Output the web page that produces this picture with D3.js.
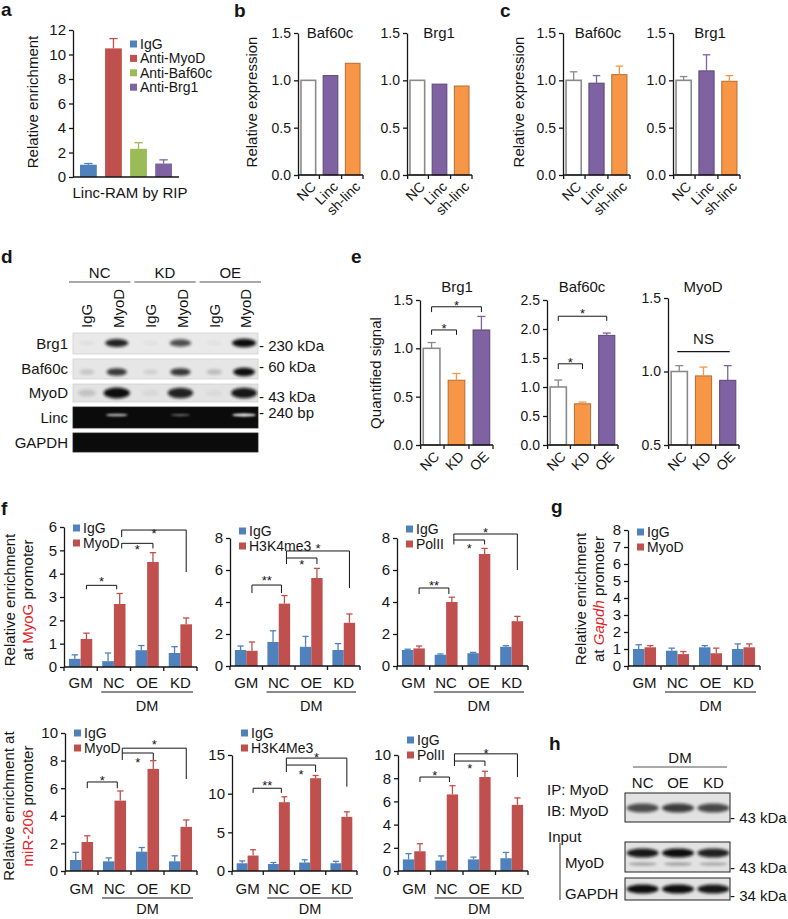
<!DOCTYPE html>
<html><head><meta charset="utf-8">
<script src="https://cdn.jsdelivr.net/npm/d3@7/dist/d3.min.js"></script>
<style>html,body{margin:0;padding:0;background:#fff}svg{display:block}</style>
</head><body>
<svg id="fig" width="788" height="919" xmlns="http://www.w3.org/2000/svg"></svg>
<script>
// ================= DATA =================
// Panel a
const aCategories = ["IgG", "Anti-MyoD", "Anti-Baf60c", "Anti-Brg1"];
const aValues = [1.0, 10.5, 2.3, 1.1];
const aErrors = [0.1, 0.8, 0.5, 0.3];
const aTicks = [0, 2, 4, 6, 8, 10, 12];
// Panels b & c
const bcCategories = ["NC", "Linc", "sh-linc"];
const bBaf60c = [1.0, 1.05, 1.18];
const bBrg1 = [1.0, 0.96, 0.94];
const cBaf60c = [1.0, 0.97, 1.06];
const cBaf60cErr = [0.09, 0.08, 0.09];
const cBrg1 = [1.0, 1.10, 0.99];
const cBrg1Err = [0.04, 0.17, 0.06];
const bcTicks = [0, 0.5, 1.0, 1.5];
// Panel d (blot band intensities, per lane)
const dGroups = ["NC", "KD", "OE"];
const dLanes = ["IgG", "MyoD", "IgG", "MyoD", "IgG", "MyoD"];
const dRows = ["Brg1", "Baf60c", "MyoD", "Linc", "GAPDH"];
const dBrg1 = [0.04, 0.9, 0.03, 0.7, 0.03, 1.0];
const dBaf60c = [0.15, 0.8, 0.1, 0.8, 0.2, 1.0];
const dMyoD = [0.15, 1.0, 0.05, 0.9, 0.04, 0.95];
const dLinc = [0, 0.75, 0, 0.4, 0, 1.0];
const dGAPDH = [0, 0, 0, 0, 0, 0];
const dSizes = ["230 kDa", "60 kDa", "43 kDa", "240 bp"];
// Panel e
const eCategories = ["NC", "KD", "OE"];
const eBrg1 = [1.0, 0.67, 1.19];
const eBrg1Err = [0.06, 0.07, 0.14];
const eBaf60c = [1.0, 0.71, 1.89];
const eBaf60cErr = [0.12, 0.03, 0.04];
const eMyoD = [1.0, 0.97, 0.94];
const eMyoDErr = [0.04, 0.06, 0.10];
const eBrg1Ticks = [0, 0.5, 1.0, 1.5];
const eBaf60cTicks = [0, 0.5, 1.0, 1.5, 2.0, 2.5];
const eMyoDTicks = [0.5, 1.0, 1.5];
const eBrg1Sig = [
  {a: "NC", b: "KD", level: 1.19, dropA: 1.14, dropB: 1.14, label: "*", at: 1.24},
  {a: "NC", b: "OE", level: 1.43, dropA: 1.375, dropB: 1.375, label: "*", at: 1.47}];
const eBaf60cSig = [
  {a: "NC", b: "KD", level: 1.4, dropA: 1.31, dropB: 1.31, label: "*", at: 1.48},
  {a: "NC", b: "OE", level: 2.22, dropA: 2.14, dropB: 2.14, label: "*", at: 2.31}];
const eMyoDNS = {a: "NC", b: "OE", level: 1.135, label: "NS", at: 1.22};
// Panel f / g
const fGroups = ["GM", "NC", "OE", "KD"];
// f, MyoG promoter
const f1IgG = [0.35, 0.25, 0.72, 0.6];
const f1IgGErr = [0.17, 0.35, 0.2, 0.27];
const f1MyoD = [1.2, 2.7, 4.5, 1.83];
const f1MyoDErr = [0.25, 0.45, 0.4, 0.27];
const f1Ticks = [0, 1, 2, 3, 4, 5, 6];
const f1Sig = [
  {a: "GM", b: "NC", level: 3.5, dropA: 3.33, dropB: 3.33, label: "*", at: 3.8},
  {a: "NC", b: "OE", level: 5.3, dropA: 5.08, dropB: 5.08, label: "*", at: 5.17},
  {a: "NC", b: "KD", level: 5.87, dropA: 5.57, dropB: 4.07, label: "*", at: 5.83}];
const f2IgG = [1.0, 1.5, 1.2, 1.0];
const f2IgGErr = [0.25, 0.7, 0.65, 0.4];
const f2H3K4me3 = [0.95, 3.9, 5.5, 2.7];
const f2H3K4me3Err = [0.55, 0.5, 0.6, 0.55];
const f2Ticks = [0, 2, 4, 6, 8];
const f2Sig = [
  {a: "GM", b: "NC", level: 5.06, dropA: 4.56, dropB: 4.56, label: "**", at: 5.5},
  {a: "NC", b: "OE", level: 6.75, dropA: 6.375, dropB: 6.375, label: "*", at: 6.5},
  {a: "NC", b: "KD", level: 7.19, dropA: 6.75, dropB: 4.875, label: "*", at: 7.5}];
const f3IgG = [1.0, 0.7, 0.8, 1.2];
const f3IgGErr = [0.05, 0.05, 0.05, 0.07];
const f3PolII = [1.1, 4.0, 7.0, 2.8];
const f3PolIIErr = [0.15, 0.3, 0.35, 0.3];
const f3Ticks = [0, 2, 4, 6, 8];
const f3Sig = [
  {a: "GM", b: "NC", level: 4.875, dropA: 4.5, dropB: 4.5, label: "**", at: 5.2},
  {a: "NC", b: "OE", level: 7.875, dropA: 7.6, dropB: 7.6, label: "*", at: 7.55},
  {a: "NC", b: "KD", level: 8.25, dropA: 7.875, dropB: 6.0, label: "*", at: 8.5}];
// f, miR-206 promoter
const f4IgG = [0.8, 0.7, 1.4, 0.7];
const f4IgGErr = [0.55, 0.25, 0.3, 0.4];
const f4MyoD = [2.1, 5.1, 7.4, 3.2];
const f4MyoDErr = [0.45, 0.7, 0.6, 0.5];
const f4Ticks = [0, 2, 4, 6, 8, 10];
const f4Sig = [
  {a: "GM", b: "NC", level: 6.45, dropA: 6.0, dropB: 6.0, label: "*", at: 6.8},
  {a: "NC", b: "OE", level: 8.55, dropA: 8.04, dropB: 8.04, label: "*", at: 8.1},
  {a: "NC", b: "KD", level: 8.9, dropA: 8.55, dropB: 6.67, label: "*", at: 9.35}];
const f5IgG = [1.0, 0.9, 1.1, 1.0];
const f5IgGErr = [0.3, 0.2, 0.35, 0.25];
const f5H3K4Me3 = [2.0, 8.9, 12.0, 7.0];
const f5H3K4Me3Err = [0.75, 0.7, 0.35, 0.65];
const f5Ticks = [0, 5, 10, 15];
const f5Sig = [
  {a: "GM", b: "NC", level: 10.7, dropA: 10.1, dropB: 10.1, label: "**", at: 11.4},
  {a: "NC", b: "OE", level: 13.7, dropA: 12.8, dropB: 12.8, label: "*", at: 12.9},
  {a: "NC", b: "KD", level: 14.6, dropA: 13.7, dropB: 10.9, label: "*", at: 15.1}];
const f6IgG = [1.0, 0.9, 1.0, 1.1];
const f6IgGErr = [0.5, 0.4, 0.2, 0.5];
const f6PolII = [1.7, 6.6, 8.1, 5.7];
const f6PolIIErr = [0.65, 0.75, 0.5, 0.6];
const f6Ticks = [0, 2, 4, 6, 8, 10];
const f6Sig = [
  {a: "GM", b: "NC", level: 8.1, dropA: 7.67, dropB: 7.67, label: "*", at: 8.5},
  {a: "NC", b: "OE", level: 9.48, dropA: 9.05, dropB: 9.05, label: "*", at: 9.1},
  {a: "NC", b: "KD", level: 10.1, dropA: 9.48, dropB: 8.1, label: "*", at: 10.35}];
// g, Gapdh promoter
const gIgG = [1.0, 0.9, 1.1, 1.0];
const gIgGErr = [0.25, 0.15, 0.1, 0.3];
const gMyoD = [1.1, 0.7, 0.75, 1.1];
const gMyoDErr = [0.1, 0.15, 0.3, 0.2];
const gTicks = [0, 1, 2, 3, 4, 5, 6, 7, 8];
// Panel h (blot band intensities)
const hLanes = ["NC", "OE", "KD"];
const hIP = [0.7, 0.78, 0.72];
const hInputMyoD = [0.95, 1.0, 0.9];
const hGAPDH = [1.0, 1.0, 0.95];

// ================= DRAWING =================
const FONT = "'Liberation Sans', Arial, Helvetica, sans-serif";
const C = {blue: "#4f81bd", red: "#c0504d", green: "#9bbb59", purple: "#7f62a1",
           orange: "#f79646", white: "#ffffff", txtRed: "#e3242b", ink: "#151515"};
const svg = d3.select("#fig").attr("font-family", FONT);
const defs = svg.append("defs");
defs.append("filter").attr("id", "blur").attr("x", "-50%").attr("y", "-80%").attr("width", "200%").attr("height", "260%")
  .append("feGaussianBlur").attr("stdDeviation", 1.8);
defs.append("filter").attr("id", "blurS").attr("x", "-50%").attr("y", "-100%").attr("width", "200%").attr("height", "300%")
  .append("feGaussianBlur").attr("stdDeviation", 0.9);

function T(x, y, s, o = {}) {
  const t = svg.append("text").attr("x", x).attr("y", y).text(s)
    .attr("font-size", o.fs || 14).attr("text-anchor", o.anchor || "start").attr("fill", o.fill || C.ink);
  if (o.bold) t.attr("font-weight", "bold");
  return t;
}
function letter(x, y, s) { T(x, y, s, {fs: 19, bold: true}); }
function line(x1, y1, x2, y2, w = 1.3, col = C.ink) {
  svg.append("line").attr("x1", x1).attr("y1", y1).attr("x2", x2).attr("y2", y2)
    .attr("stroke", col).attr("stroke-width", w);
}
function yAxis(x0, y, ticks, fmt, fs = 14) {
  const g = svg.append("g").attr("transform", `translate(${x0},0)`)
    .call(d3.axisLeft(y).tickValues(ticks).tickFormat(fmt).tickSize(4).tickSizeOuter(0).tickPadding(3));
  g.select(".domain").attr("stroke", C.ink).attr("stroke-width", 1.3);
  g.selectAll(".tick line").attr("stroke", C.ink).attr("stroke-width", 1.3);
  g.selectAll(".tick text").attr("font-size", fs).attr("font-family", FONT).attr("fill", C.ink);
  return g;
}
function yLabel(cx, cy, parts, fs = 15) {
  const t = svg.append("text").attr("transform", `translate(${cx},${cy}) rotate(-90)`)
    .attr("text-anchor", "middle").attr("dy", "0.35em").attr("font-size", fs).attr("fill", C.ink);
  parts.forEach(p => {
    const ts = t.append("tspan").text(p.t);
    if (p.red) ts.attr("fill", C.txtRed);
    if (p.italic) ts.attr("font-style", "italic");
  });
}
function errBars(xs, tops, errs, w, cols, y) {
  tops.forEach((v, i) => {
    if (!errs || !errs[i]) return;
    const x = xs[i], col = cols[i];
    line(x, y(v), x, y(v + errs[i]), 1.3, col);
    line(x - w / 2, y(v + errs[i]), x + w / 2, y(v + errs[i]), 1.3, col);
  });
}
function sigStar(xa, xb, y, s, fs = 13) {
  const yl = y(s.level);
  svg.append("path").attr("d", `M${xa},${y(s.dropA)}V${yl}H${xb}V${y(s.dropB)}`)
    .attr("fill", "none").attr("stroke", C.ink).attr("stroke-width", 1);
  T((xa + xb) / 2, y(s.at) + 0.57 * fs, s.label, {fs: fs, anchor: "middle"});
}

// ---------- Simple (single-series) bar chart: panels b, c, e ----------
function simpleChart(cfg) {
  const x = d3.scaleBand().domain(cfg.cats).range([cfg.x0, cfg.x1]).paddingInner(0.27).paddingOuter(0.1);
  const y = d3.scaleLinear().domain(cfg.domain).range([cfg.yBot, cfg.yTop]);
  const base = cfg.domain[0];
  const cx = cfg.cats.map(c => x(c) + x.bandwidth() / 2);
  svg.append("g").selectAll("rect").data(cfg.vals).join("rect")
    .attr("x", (d, i) => x(cfg.cats[i]) + 0.75).attr("width", x.bandwidth() - 1.5)
    .attr("y", d => y(d)).attr("height", d => y(base) - y(d))
    .attr("fill", (d, i) => cfg.colors[i])
    .attr("stroke", (d, i) => cfg.colors[i] === C.white ? "#8a8a8a" : d3.color(cfg.colors[i]).darker(0.9))
    .attr("stroke-width", (d, i) => cfg.colors[i] === C.white ? 1.6 : 1);
  const ecols = cfg.colors.map(c => c === C.white ? "#8a8a8a" : c);
  if (cfg.errs) errBars(cx, cfg.vals, cfg.errs, x.bandwidth() * 0.45, ecols, y);
  yAxis(cfg.x0, y, cfg.ticks, d3.format(".1f"), 14);
  line(cfg.x0, y(base), cfg.x1, y(base));
  [cfg.x0 + 0.65, ...cfg.cats.slice(1).map(c => x(c) - x.step() * 0.135), cfg.x1].forEach(t => line(t, y(base), t, y(base) + 4));
  cfg.cats.forEach((c, i) => {
    svg.append("text").attr("transform", `translate(${cx[i] + 5},${y(base) + 9}) rotate(-45)`)
      .attr("text-anchor", "end").attr("dy", "0.35em").attr("font-size", 14).attr("fill", C.ink).text(c);
  });
  T(cfg.titleX, cfg.titleY, cfg.title, {fs: 15, anchor: "middle"});
  return {x, y, cx};
}

// ---------- Grouped (IgG vs antibody) bar chart: panels f, g ----------
function groupedChart(cfg) {
  const x = d3.scaleBand().domain(fGroups).range([cfg.x0, cfg.x1]).paddingInner(0.3).paddingOuter(0.15);
  const sub = d3.scaleBand().domain(["IgG", "T"]).range([0, x.bandwidth()]);
  const y = d3.scaleLinear().domain([0, cfg.ticks[cfg.ticks.length - 1]]).range([cfg.yBot, cfg.yTop]);
  const series = [{k: "IgG", v: cfg.igg, e: cfg.iggErr, c: C.blue}, {k: "T", v: cfg.trt, e: cfg.trtErr, c: C.red}];
  series.forEach(s => {
    svg.append("g").selectAll("rect").data(s.v).join("rect")
      .attr("x", (d, i) => x(fGroups[i]) + sub(s.k)).attr("width", sub.bandwidth())
      .attr("y", d => y(d)).attr("height", d => cfg.yBot - y(d)).attr("fill", s.c);
    errBars(fGroups.map(g => x(g) + sub(s.k) + sub.bandwidth() / 2), s.v, s.e, sub.bandwidth() * 0.55,
      s.v.map(() => s.c), y);
  });
  yAxis(cfg.x0, y, cfg.ticks, d3.format("d"), 15);
  line(cfg.x0, cfg.yBot, cfg.x1, cfg.yBot);
  d3.range(5).forEach(k => { const t = cfg.x0 + k * x.step(); line(t, cfg.yBot, t, cfg.yBot + 4); });
  fGroups.forEach(gp => T(x(gp) + x.bandwidth() / 2, cfg.yBot + cfg.lblDy, gp, {fs: 15, anchor: "middle"}));
  // DM underline
  line(cfg.x0 + x.step() + 4, cfg.dmY, cfg.x1 - 4, cfg.dmY, 1.1);
  T((cfg.x0 + x.step() + cfg.x1) / 2, cfg.dmY + cfg.dmDy, "DM", {fs: 14.5, anchor: "middle"});
  // legend
  const lx = cfg.x0 + 9;
  [["IgG", C.blue], [cfg.trtName, C.red]].forEach((l, i) => {
    const cy = cfg.legY + i * 15;
    svg.append("rect").attr("x", lx).attr("y", cy - 3.5).attr("width", 7).attr("height", 7).attr("fill", l[1]);
    T(lx + 10, cy + 4.8, l[0], {fs: 14});
  });
  // significance brackets
  if (cfg.sig) cfg.sig.forEach(s => {
    const xa = x(s.a) + sub("T") + sub.bandwidth() / 2 + (s.a === "GM" ? 0 : 2);
    const xb = x(s.b) + sub("T") + sub.bandwidth() / 2 - (s.b === "NC" ? 3 : 0);
    sigStar(xa, xb, y, s);
  });
  return {x, y};
}

// ================= Panel a =================
(function () {
  const x = d3.scaleBand().domain(aCategories).range([75, 177]).paddingInner(0.33).paddingOuter(0.2);
  const y = d3.scaleLinear().domain([0, 12]).range([177, 30]);
  const cols = [C.blue, C.red, C.green, C.purple];
  svg.append("g").selectAll("rect").data(aValues).join("rect")
    .attr("x", (d, i) => x(aCategories[i])).attr("width", x.bandwidth())
    .attr("y", d => y(d)).attr("height", d => y(0) - y(d)).attr("fill", (d, i) => cols[i]);
  errBars(aCategories.map(c => x(c) + x.bandwidth() / 2), aValues, aErrors, x.bandwidth() * 0.5, cols, y);
  yAxis(73, y, aTicks, d3.format("d"), 15);
  line(73, y(0), 179, y(0));
  aCategories.forEach((c, i) => {
    const cy = 44 + i * 14.4;
    svg.append("rect").attr("x", 130).attr("y", cy - 3.5).attr("width", 7).attr("height", 7).attr("fill", cols[i]);
    T(140, cy + 4.8, c, {fs: 14});
  });
  yLabel(33, 102, [{t: "Relative enrichment"}]);
  T(130, 198, "Linc-RAM by RIP", {fs: 15, anchor: "middle"});
  letter(1, 16, "a");
})();

// ================= Panels b & c =================
letter(234, 17, "b");
yLabel(252, 102, [{t: "Relative expression"}]);
simpleChart({cats: bcCategories, vals: bBaf60c, colors: [C.white, C.purple, C.orange], x0: 298, x1: 363,
  domain: [0, 1.5], yTop: 33, yBot: 175, ticks: bcTicks, title: "Baf60c", titleX: 330, titleY: 38});
simpleChart({cats: bcCategories, vals: bBrg1, colors: [C.white, C.purple, C.orange], x0: 407, x1: 472,
  domain: [0, 1.5], yTop: 33, yBot: 175, ticks: bcTicks, title: "Brg1", titleX: 439, titleY: 38});
letter(500, 17, "c");
yLabel(519, 102, [{t: "Relative expression"}]);
simpleChart({cats: bcCategories, vals: cBaf60c, errs: cBaf60cErr, colors: [C.white, C.purple, C.orange], x0: 563, x1: 630,
  domain: [0, 1.5], yTop: 33, yBot: 175, ticks: bcTicks, title: "Baf60c", titleX: 598, titleY: 38});
simpleChart({cats: bcCategories, vals: cBrg1, errs: cBrg1Err, colors: [C.white, C.purple, C.orange], x0: 673, x1: 740,
  domain: [0, 1.5], yTop: 33, yBot: 175, ticks: bcTicks, title: "Brg1", titleX: 710, titleY: 38});

// ================= Panel d (co-IP blots) =================
(function () {
  letter(1, 263, "d");
  const lanes = d3.scaleBand().domain(d3.range(dLanes.length)).range([71, 262]);
  const grp = d3.scaleBand().domain(dGroups).range([69, 261]).paddingInner(0.06);
  dGroups.forEach(gp => {
    T(grp(gp) + grp.bandwidth() / 2, 278, gp, {fs: 15, anchor: "middle"});
    line(grp(gp), 282, grp(gp) + grp.bandwidth(), 282, 1.2, "#555");
  });
  dLanes.forEach((l, i) => {
    svg.append("text").attr("transform", `translate(${lanes(i) + lanes.bandwidth() / 2},328) rotate(-90)`)
      .attr("dy", "0.35em").attr("font-size", 15).attr("fill", C.ink).text(l);
  });
  const rows = [
    {name: dRows[0], vals: dBrg1, y0: 333, y1: 354, cy: 343, w: 22, h: 7, bg: "#e9e9e9", band: "#111"},
    {name: dRows[1], vals: dBaf60c, y0: 359, y1: 379, cy: 372, w: 20, h: 7, bg: "#e6e6e6", band: "#111"},
    {name: dRows[2], vals: dMyoD, y0: 384, y1: 402, cy: 393, w: 24, h: 9, bg: "#e3e3e3", band: "#111"},
    {name: dRows[3], vals: dLinc, y0: 407, y1: 428, cy: 415, w: 22, h: 2.5, bg: "#0b0b0b", band: "#f4f4f4"},
    {name: dRows[4], vals: dGAPDH, y0: 433, y1: 452, cy: 442, w: 22, h: 3, bg: "#0b0b0b", band: "#f4f4f4"}];
  rows.forEach((r, ri) => {
    const id = "clipd" + ri;
    defs.append("clipPath").attr("id", id).append("rect").attr("x", 73).attr("y", r.y0).attr("width", 185).attr("height", r.y1 - r.y0);
    svg.append("rect").attr("x", 73).attr("y", r.y0).attr("width", 185).attr("height", r.y1 - r.y0)
      .attr("fill", r.bg).attr("stroke", ri < 3 ? "#d0d0d0" : "#222").attr("stroke-width", 0.8);
    const g = svg.append("g").attr("clip-path", `url(#${id})`);
    g.selectAll("ellipse").data(r.vals).join("ellipse")
      .attr("cx", (d, i) => lanes(i) + lanes.bandwidth() / 2 + (i % 2 ? -2 : 0))
      .attr("cy", r.cy)
      .attr("rx", d => r.w / 2 * (0.7 + 0.4 * d)).attr("ry", d => r.h / 2 * (0.7 + 0.5 * d))
      .attr("fill", r.band).attr("opacity", d => d)
      .attr("filter", ri === 3 ? "url(#blurS)" : "url(#blur)");
    T(68, (r.y0 + r.y1) / 2 + 5, r.name, {fs: 15, anchor: "end"});
  });
  const sizeY = [346, 367, 397, 413];
  dSizes.forEach((s, i) => T(259, sizeY[i] + 5, "- " + s, {fs: 15}));
})();

// ================= Panel e =================
letter(351, 263, "e");
yLabel(376, 373, [{t: "Quantified signal"}]);
(function () {
  const cols = [C.white, C.orange, C.purple];
  const c1 = simpleChart({cats: eCategories, vals: eBrg1, errs: eBrg1Err, colors: cols, x0: 420, x1: 493,
    domain: [0, 1.5], yTop: 300, yBot: 445, ticks: eBrg1Ticks, title: "Brg1", titleX: 457, titleY: 292});
  eBrg1Sig.forEach(s => sigStar(c1.cx[eCategories.indexOf(s.a)], c1.cx[eCategories.indexOf(s.b)], c1.y, s));
  const c2 = simpleChart({cats: eCategories, vals: eBaf60c, errs: eBaf60cErr, colors: cols, x0: 547, x1: 618,
    domain: [0, 2.5], yTop: 300, yBot: 445, ticks: eBaf60cTicks, title: "Baf60c", titleX: 582, titleY: 292});
  eBaf60cSig.forEach(s => sigStar(c2.cx[eCategories.indexOf(s.a)], c2.cx[eCategories.indexOf(s.b)], c2.y, s));
  const c3 = simpleChart({cats: eCategories, vals: eMyoD, errs: eMyoDErr, colors: cols, x0: 668, x1: 739,
    domain: [0.5, 1.5], yTop: 298, yBot: 445, ticks: eMyoDTicks, title: "MyoD", titleX: 703, titleY: 292});
  const xa = c3.cx[0] - 2, xb = c3.cx[2] + 2;
  line(xa, c3.y(eMyoDNS.level), xb, c3.y(eMyoDNS.level), 1.1);
  T((xa + xb) / 2, c3.y(eMyoDNS.at) + 5, eMyoDNS.label, {fs: 15, anchor: "middle"});
})();

// ================= Panel f =================
letter(1, 515, "f");
yLabel(10, 600, [{t: "Relative enrichment"}]);
yLabel(28, 600, [{t: "at "}, {t: "MyoG", red: true}, {t: " promoter"}]);
groupedChart({x0: 64, x1: 197, yTop: 527, yBot: 667, ticks: f1Ticks, igg: f1IgG, iggErr: f1IgGErr,
  trt: f1MyoD, trtErr: f1MyoDErr, trtName: "MyoD", sig: f1Sig, legY: 528, lblDy: 21, dmY: 692, dmDy: 19});
groupedChart({x0: 230, x1: 360, yTop: 538, yBot: 666, ticks: f2Ticks, igg: f2IgG, iggErr: f2IgGErr,
  trt: f2H3K4me3, trtErr: f2H3K4me3Err, trtName: "H3K4me3", sig: f2Sig, legY: 531, lblDy: 22, dmY: 692, dmDy: 19});
groupedChart({x0: 397, x1: 528, yTop: 538, yBot: 666, ticks: f3Ticks, igg: f3IgG, iggErr: f3IgGErr,
  trt: f3PolII, trtErr: f3PolIIErr, trtName: "PolII", sig: f3Sig, legY: 529, lblDy: 22, dmY: 692, dmDy: 19});

yLabel(9, 806, [{t: "Relative enrichment at"}]);
yLabel(28, 806, [{t: "miR-206", red: true}, {t: " promoter"}]);
groupedChart({x0: 65, x1: 197, yTop: 733, yBot: 871, ticks: f4Ticks, igg: f4IgG, iggErr: f4IgGErr,
  trt: f4MyoD, trtErr: f4MyoDErr, trtName: "MyoD", sig: f4Sig, legY: 733, lblDy: 23, dmY: 898, dmDy: 16});
groupedChart({x0: 232, x1: 357, yTop: 755, yBot: 871, ticks: f5Ticks, igg: f5IgG, iggErr: f5IgGErr,
  trt: f5H3K4Me3, trtErr: f5H3K4Me3Err, trtName: "H3K4Me3", sig: f5Sig, legY: 733, lblDy: 23, dmY: 898, dmDy: 16});
groupedChart({x0: 398, x1: 528, yTop: 755, yBot: 871, ticks: f6Ticks, igg: f6IgG, iggErr: f6IgGErr,
  trt: f6PolII, trtErr: f6PolIIErr, trtName: "PolII", sig: f6Sig, legY: 740, lblDy: 23, dmY: 898, dmDy: 16});

// ================= Panel g =================
letter(551, 513, "g");
yLabel(581, 599, [{t: "Relative enrichment"}]);
yLabel(599, 599, [{t: "at "}, {t: "Gapdh", red: true, italic: true}, {t: " promoter"}]);
groupedChart({x0: 628, x1: 760, yTop: 530, yBot: 666, ticks: gTicks, igg: gIgG, iggErr: gIgGErr,
  trt: gMyoD, trtErr: gMyoDErr, trtName: "MyoD", legY: 532, lblDy: 22, dmY: 692, dmDy: 19});

// ================= Panel h =================
(function () {
  letter(549, 750, "h");
  const lanes = d3.scaleBand().domain(hLanes).range([625, 731]);
  T(680, 763, "DM", {fs: 15, anchor: "middle"});
  line(633, 767, 727, 767, 1.2, "#555");
  hLanes.forEach(l => T(lanes(l) + lanes.bandwidth() / 2, 788, l, {fs: 15, anchor: "middle"}));
  T(547, 795, "IP: MyoD", {fs: 15});
  T(547, 816, "IB: MyoD", {fs: 15});
  T(548, 842, "Input", {fs: 15});
  T(565, 868, "MyoD", {fs: 15});
  T(565, 899, "GAPDH", {fs: 15});
  line(560, 843, 560, 900, 1.2, "#555");
  const rows = [
    {vals: hIP, y0: 793, y1: 822, cy: 808, h: 7, faint: null},
    {vals: hInputMyoD, y0: 842, y1: 872, cy: 853, h: 7, faint: 864},
    {vals: hGAPDH, y0: 878, y1: 900, cy: 889, h: 7, faint: null}];
  rows.forEach((r, ri) => {
    const id = "cliph" + ri;
    defs.append("clipPath").attr("id", id).append("rect").attr("x", 625).attr("y", r.y0).attr("width", 105).attr("height", r.y1 - r.y0);
    svg.append("rect").attr("x", 625).attr("y", r.y0).attr("width", 105).attr("height", r.y1 - r.y0)
      .attr("fill", "#e2e2e2").attr("stroke", "#222").attr("stroke-width", 1);
    const g = svg.append("g").attr("clip-path", `url(#${id})`);
    g.selectAll("ellipse.m").data(r.vals).join("ellipse").attr("class", "m")
      .attr("cx", (d, i) => lanes(hLanes[i]) + lanes.bandwidth() / 2).attr("cy", r.cy)
      .attr("rx", 16).attr("ry", r.h / 2 + 1).attr("fill", "#111").attr("opacity", d => d)
      .attr("filter", "url(#blur)");
    if (r.faint) g.selectAll("ellipse.f").data(r.vals).join("ellipse").attr("class", "f")
      .attr("cx", (d, i) => lanes(hLanes[i]) + lanes.bandwidth() / 2).attr("cy", r.faint)
      .attr("rx", 14).attr("ry", 2).attr("fill", "#111").attr("opacity", d => d * 0.25)
      .attr("filter", "url(#blurS)");
  });
  T(730, 823, "- 43 kDa", {fs: 15});
  T(730, 873, "- 43 kDa", {fs: 15});
  T(730, 901, "- 34 kDa", {fs: 15});
})();
</script>
</body></html>
